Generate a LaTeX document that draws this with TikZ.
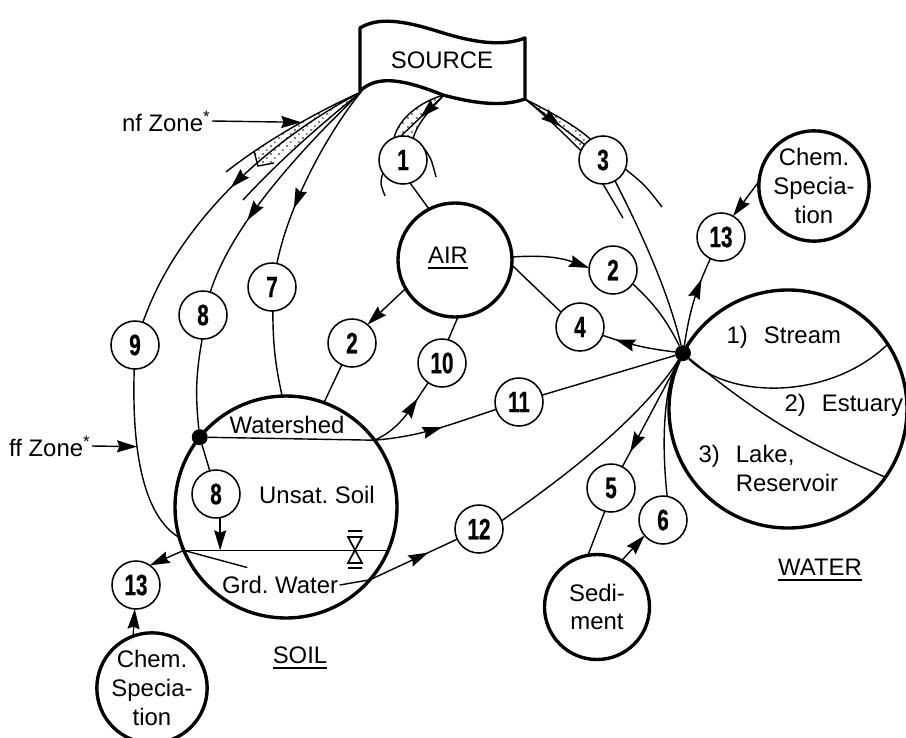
\documentclass[tikz,border=0pt]{standalone}
\usepackage{fontspec}
\setmainfont{Liberation Sans}
\newfontfamily\numfont[FakeStretch=0.7,FakeBold=0.6]{Liberation Sans}
\usepackage{tikz}
\usetikzlibrary{arrows.meta,decorations.markings,patterns,backgrounds}
\frenchspacing
\newcommand{\lblfont}{\fontsize{17}{20.5}\selectfont}
\newsavebox{\ulbox}
\newcommand{\ulabel}[1]{\sbox{\ulbox}{#1}\rlap{\vrule height -2pt depth 3.4pt width \wd\ulbox}\usebox{\ulbox}}
\pgfdeclarepatternformonly{stipple}{\pgfqpoint{0pt}{0pt}}{\pgfqpoint{6pt}{6pt}}{\pgfqpoint{6pt}{6pt}}{%
  \pgfpathcircle{\pgfqpoint{1.5pt}{1.5pt}}{0.6pt}%
  \pgfpathcircle{\pgfqpoint{4.5pt}{4.5pt}}{0.6pt}%
  \pgfusepath{fill}}
\tikzset{
>={Stealth[length=5mm,width=3mm,inset=0.6mm]},
num/.style={circle, draw, fill=white, line width=1.1pt, minimum size=12mm, inner sep=0pt, outer sep=0pt, font=\numfont\bfseries\fontsize{21}{22}\selectfont},
compartment/.style={circle, draw, fill=white, line width=2.4pt, inner sep=0pt, outer sep=0pt, align=center, font=\lblfont},
junction/.style={circle, fill=black, minimum size=4mm, inner sep=0pt},
txt/.style={inner sep=1pt, font=\lblfont},
link/.style={line width=1pt},
flow/.style={link, ->},
mid_flow/.style={link, postaction={decorate, decoration={markings, mark=at position #1 with {\arrow{>}}}}}
}

\begin{document}
\begin{tikzpicture}[x=0.25mm, y=0.25mm]
    \useasboundingbox (0,0) rectangle (906,-737);

    \node[txt] (source) at (442,-60) {SOURCE};
    \draw[line width=2.4pt, line join=round] (360,-28) .. controls (378,-17) and (402,-20) .. (440,-32)
        .. controls (478,-44) and (505,-46) .. (525,-38) -- (525,-99)
        .. controls (505,-106) and (480,-105) .. (443,-95)
        .. controls (405,-80) and (378,-74) .. (360,-91) -- cycle;
    \coordinate (src_left) at (361,-92);
    \coordinate (src_mid) at (444,-95);
    \coordinate (src_right) at (525,-99);

    \node[compartment, minimum size=28.5mm] (air) at (455,-260) {};
    \node[txt] (air_lbl) at (448,-258) {\ulabel{AIR}};
    \node[compartment, minimum size=55.5mm] (soil) at (286,-507) {};
    \node[compartment, minimum size=59.5mm] (water) at (788,-409) {};
    \node[compartment, minimum size=26.25mm] (sed) at (597,-607) {Sedi-\\ment};
    \node[compartment, minimum size=26mm] (chem_w) at (814,-186) {Chem.\\Specia-\\tion};
    \node[compartment, minimum size=26mm] (chem_s) at (152,-688) {Chem.\\Specia-\\tion};

    \node[num] (n1) at (403,-160) {1};
    \node[num] (n3) at (603,-160) {3};
    \node[num] (n2w) at (613,-270) {2};
    \node[num] (n4) at (580,-327) {4};
    \node[num] (n13w) at (721,-237) {13};
    \node[num] (n2s) at (352,-343) {2};
    \node[num] (n10) at (442,-363) {10};
    \node[num] (n11) at (519,-402) {11};
    \node[num] (n7) at (272,-287) {7};
    \node[num] (n8) at (203,-315) {8};
    \node[num] (n9) at (135,-345) {9};
    \node[num] (n8s) at (216,-494) {8};
    \node[num] (n12) at (479,-529) {12};
    \node[num] (n5) at (611,-488) {5};
    \node[num] (n6) at (663,-520) {6};
    \node[num] (n13s) at (136,-585) {13};

    \node[junction] (ws_dot) at (soil.141) {};
    \node[junction] (w_dot) at (water.152) {};

    \node[txt] (ws_lbl) at (287,-425) {Watershed};
    \node[txt] (unsat_lbl) at (317,-495) {Unsat. Soil};
    \node[txt] (grd) at (280,-585) {Grd. Water};
    \node[txt] (soil_lbl) at (300,-658) {\ulabel{SOIL}};
    \node[txt] (water_lbl) at (820,-570) {\ulabel{WATER}};
    \node[txt, anchor=west] (stream) at (725,-337) {1)\hspace{4mm}Stream};
    \node[txt, anchor=west] (estuary) at (783,-405) {2)\hspace{4mm}Estuary};
    \node[txt, anchor=west, align=left] (lake) at (697,-471) {3)\hspace{4mm}Lake,\\\phantom{3)}\hspace{4mm}Reservoir};
    \node[txt, anchor=east] (nf_lbl) at (212,-121) {nf Zone\textsuperscript{*}};
    \node[txt, anchor=east] (ff_lbl) at (92,-446) {ff Zone\textsuperscript{*}};

    \begin{pgfonlayer}{background}
        \fill[pattern=stipple] (src_left) -- (330,-106) -- (295,-126) -- (254,-151) -- (258,-166) -- (274,-163) -- (300,-143) -- (330,-117) -- cycle;
        \fill[pattern=stipple] (src_mid) .. controls (425,-100) and (400,-115) .. (n1.112) -- (n1.65) .. controls (418,-122) and (430,-110) .. (src_mid) -- cycle;
        \fill[pattern=stipple] (src_right) .. controls (550,-112) and (575,-125) .. (n3.121) -- (n3.157) .. controls (565,-135) and (545,-115) .. (src_right) -- cycle;
    \end{pgfonlayer}

    \draw[link] (src_left) .. controls (310,-115) and (260,-145) .. (226,-172) coordinate[pos=0.4] (nf_pt);
    \draw[link] (src_left) .. controls (320,-125) and (280,-160) .. (243,-200);
    \draw[link] (254,-151) -- (258,-166) -- (274,-163);
    \draw[mid_flow=0.5] (src_left) .. controls (260,-145) and (175,-230) .. (n9);
    \draw[mid_flow=0.68] (src_left) .. controls (290,-160) and (230,-230) .. (n8);
    \draw[mid_flow=0.7] (src_left) .. controls (330,-130) and (290,-200) .. (n7);
    \draw[flow] (nf_lbl.east) -- (nf_pt);

    \draw[link] (src_mid) .. controls (425,-100) and (400,-115) .. (n1.112);
    \draw[link] (src_mid) .. controls (430,-110) and (418,-122) .. (n1.65);
    \draw[mid_flow=0.55] (src_mid) -- (n1.95);
    \draw[link] (n1.213) .. controls (380,-183) .. (385,-196);
    \draw[link] (n1.30) .. controls (431,-158) .. (436,-177);
    \draw[link] (n1.-73) -- (air.117);

    \draw[link] (src_right) .. controls (550,-112) and (575,-125) .. (n3.121);
    \draw[link] (src_right) .. controls (545,-115) and (565,-135) .. (n3.157);
    \draw[mid_flow=0.6] (src_right) -- (n3.140);
    \draw[link] (n3.270) -- (623,-218);
    \draw[link] (n3.-22) .. controls (645,-185) .. (662,-207);
    \draw[link] (n3.-60) .. controls (640,-230) and (668,-290) .. (w_dot);

    \draw[flow] (air.3) to[bend left=12] (n2w.175);
    \draw[link] (air.-5) -- (n4.142);
    \draw[flow] (air.210) -- (n2s.50);
    \draw[link] (air.-87) -- (n10.75);

    \coordinate (wt_l) at (soil.203);
    \coordinate (wt_r) at (soil.-23);
    \draw[link] (wt_l) -- (wt_r);
    \draw[link] (ws_dot) -- (soil.37);
    \begin{scope}[shift={(355,-550)}]
        \draw[line width=1.2pt] (-7,19) -- (7,19) (-7,13) -- (7,13) -- (0,0) -- cycle
            (0,0) -- (-7,-13) -- (7,-13) -- cycle (-7,-18) -- (7,-18);
    \end{scope}

    \draw[link] (n2s.-115) -- (soil.70);
    \draw[link] (n7.-88) to[bend right=6] (soil.92);
    \draw[link] (n8.-92) to[bend right=8] (ws_dot);
    \draw[link] (ws_dot) -- (n8s.105);
    \draw[flow] (n8s.-80) -- (n8s.-80 |- wt_l);
    \draw[mid_flow=0.76] (soil.37) to[out=25,in=235] (n10);
    \draw[mid_flow=0.55] (soil.37) to[out=5,in=198] (n11);

    \draw[link] (n9) .. controls (131,-470) and (150,-520) .. (soil.196) coordinate[pos=0.3] (ff_pt);
    \draw[flow] (ff_lbl.east) -- (ff_pt);

    \draw[mid_flow=0.75] (grd.east) -- (soil.-41) -- (n12);
    \draw[flow] ([shift={(27,7)}]grd.north west) -- (wt_l) -- (n13s.55);
    \draw[flow] (chem_s.110) -- (n13s.-93);

    \draw[link] (w_dot) .. controls (730,-400) and (830,-400) .. (water.33);
    \draw[link] (w_dot) to[bend right=8] (water.-35);
    \draw[link] (n2w.-35) to[bend left=10] (w_dot);
    \draw[mid_flow=0.82] (w_dot) to[bend left=6] (n4);
    \draw[mid_flow=0.75] (w_dot) to[bend left=8] (n13w);
    \draw[flow] (chem_w.175) -- (n13w.60);
    \draw[link] (n11) -- (w_dot);
    \draw[link] (n12.20) .. controls (560,-480) and (640,-420) .. (w_dot);
    \draw[mid_flow=0.86] (w_dot) -- (n5);
    \draw[link] (n5.255) -- (sed.100);
    \draw[flow] (sed.62) -- (n6.220);
    \draw[link] (n6.80) .. controls (661,-440) and (664,-385) .. (w_dot);
\end{tikzpicture}
\end{document}
